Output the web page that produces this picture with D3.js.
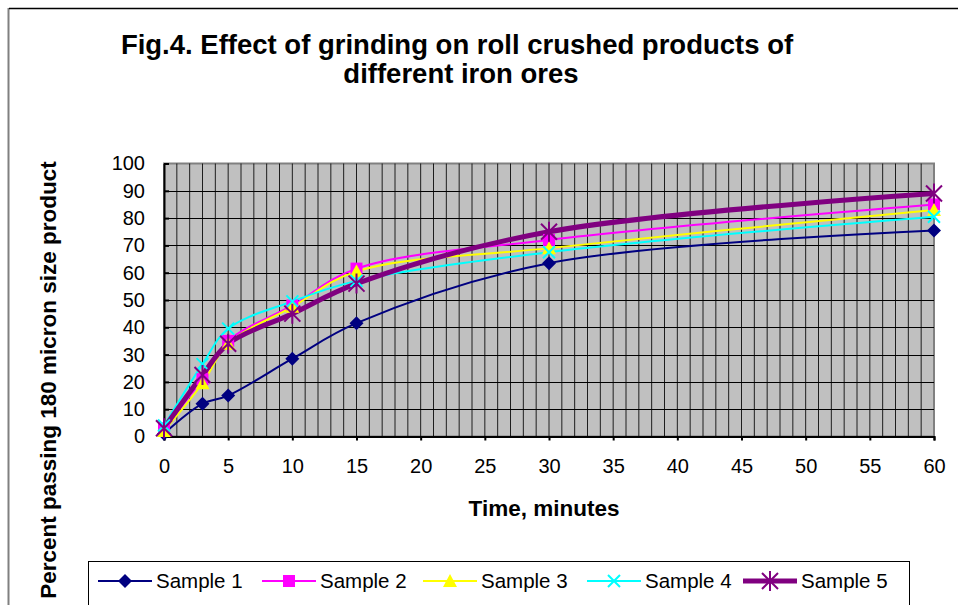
<!DOCTYPE html>
<html>
<head>
<meta charset="utf-8">
<script src="https://cdn.jsdelivr.net/npm/d3@7"></script>
<style>
  body { margin: 0; background: #fff; }
  svg { display: block; font-family: "Liberation Sans", Arial, sans-serif; }
</style>
</head>
<body>
<div class="visualization"></div>
<script>
//constants
const width = 958;
const height = 605;

// data
const times = [0, 3, 5, 10, 15, 30, 60];
const sample1 = [1, 12, 15, 28.5, 41.5, 63.5, 75.5];
const sample2 = [3, 21, 35, 48, 61.5, 72, 85];
const sample3 = [2, 19.5, 34, 47.5, 60.5, 69, 83];
const sample4 = [4, 26.5, 39.5, 49.5, 57, 67.5, 80.5];
const sample5 = [3, 22.5, 34, 45, 56, 75, 89];
const seriesNames = ["Sample 1", "Sample 2", "Sample 3", "Sample 4", "Sample 5"];
const seriesValues = [sample1, sample2, sample3, sample4, sample5];
const colors = ["#000080", "#ff00ff", "#ffff00", "#00ffff", "#800080"];
const lineWidths = [2, 2, 2, 2, 5];
const markerTypes = ["diamond", "square", "triangle", "x", "star"];
const xTicks = d3.range(0, 61, 5);
const yTicks = d3.range(0, 101, 10);

const svg = d3.select(".visualization")
    .append("svg")
    .attr("width", width)
    .attr("height", height);

// outer chart frame
svg.append("line").attr("x1", 8.5).attr("x2", 8.5).attr("y1", 8).attr("y2", height)
    .attr("stroke", "#808080").attr("stroke-width", 2);
svg.append("line").attr("x1", 9).attr("x2", width).attr("y1", 8.5).attr("y2", 8.5)
    .attr("stroke", "#000").attr("stroke-width", 1.5);

const plot = {left: 164, right: 934, top: 163.5, bottom: 436.5};

const x = d3.scaleLinear().domain([0, 60]).range([plot.left, plot.right]);
const y = d3.scaleLinear().domain([0, 100]).range([plot.bottom, plot.top]);

// plot area
svg.append("rect")
    .attr("x", plot.left).attr("y", plot.top)
    .attr("width", plot.right - plot.left).attr("height", plot.bottom - plot.top)
    .attr("fill", "#c0c0c0")
    .attr("stroke", "#808080").attr("stroke-width", 2);

// vertical grid every minute
svg.append("g").selectAll("line")
    .data(d3.range(1, 60))
    .join("line")
    .attr("x1", d => x(d)).attr("x2", d => x(d))
    .attr("y1", plot.top).attr("y2", plot.bottom)
    .attr("stroke", "#000").attr("stroke-width", 1).attr("stroke-opacity", 0.85);

// horizontal grid every 10
svg.append("g").selectAll("line")
    .data(yTicks.slice(1, -1))
    .join("line")
    .attr("x1", plot.left).attr("x2", plot.right)
    .attr("y1", d => Math.round(y(d)) + 0.5).attr("y2", d => Math.round(y(d)) + 0.5)
    .attr("stroke", "#000").attr("stroke-width", 1);

// axes
const xAxis = svg.append("g")
    .attr("transform", `translate(0,${plot.bottom})`)
    .call(d3.axisBottom(x).tickValues(xTicks).tickSize(4).tickPadding(18));
const yAxis = svg.append("g")
    .attr("transform", `translate(${plot.left},0)`)
    .call(d3.axisLeft(y).tickValues(yTicks).tickSizeInner(-5).tickSizeOuter(0).tickPadding(19));

[xAxis, yAxis].forEach(a => {
  a.select(".domain").attr("stroke", "#000").attr("stroke-width", 2);
  a.selectAll(".tick line").attr("stroke", "#000").attr("stroke-width", 2);
  a.selectAll(".tick text").attr("font-size", 20).attr("fill", "#000")
      .attr("font-family", "Liberation Sans, Arial, sans-serif");
});

// lines
const line = d3.line()
    .x((d, i) => x(times[i]))
    .y(d => y(d))
    .curve(d3.curveCatmullRom.alpha(0.5));

svg.append("g").selectAll("path")
    .data(seriesValues)
    .join("path")
    .attr("d", d => line(d))
    .attr("fill", "none")
    .attr("stroke", (d, i) => colors[i])
    .attr("stroke-width", (d, i) => lineWidths[i]);

// markers
function drawMarker(g, type, color) {
  if (type === "diamond") {
    g.append("path").attr("d", "M0,-7L7,0L0,7L-7,0Z").attr("fill", color);
  } else if (type === "square") {
    g.append("rect").attr("x", -6).attr("y", -6).attr("width", 12).attr("height", 12).attr("fill", color);
  } else if (type === "triangle") {
    g.append("path").attr("d", "M0,-7L7,6L-7,6Z").attr("fill", color);
  } else if (type === "x") {
    g.append("path").attr("d", "M-6,-6L6,6M-6,6L6,-6").attr("stroke", color).attr("stroke-width", 2);
  } else if (type === "star") {
    g.append("path").attr("d", "M-8,-8L8,8M-8,8L8,-8M0,-10L0,10").attr("stroke", color).attr("stroke-width", 2);
  }
}

seriesValues.forEach((vals, si) => {
  vals.forEach((v, i) => {
    const g = svg.append("g").attr("transform", `translate(${x(times[i])},${y(v)})`);
    drawMarker(g, markerTypes[si], colors[si]);
  });
});

// title
const title = svg.append("text")
    .attr("text-anchor", "middle")
    .attr("font-weight", "bold")
    .attr("font-size", 27.5)
    .attr("fill", "#000");
title.append("tspan").attr("x", 457).attr("y", 54).text("Fig.4. Effect of grinding on roll crushed products of");
title.append("tspan").attr("x", 461).attr("y", 83).text("different iron ores");

// axis titles
svg.append("text")
    .attr("x", 544).attr("y", 516)
    .attr("text-anchor", "middle")
    .attr("font-weight", "bold").attr("font-size", 22.5)
    .text("Time, minutes");

svg.append("text")
    .attr("transform", "translate(56,380) rotate(-90)")
    .attr("text-anchor", "middle")
    .attr("font-weight", "bold").attr("font-size", 22.5)
    .text("Percent passing 180 micron size product");

// legend
svg.append("rect")
    .attr("x", 88.5).attr("y", 561.5)
    .attr("width", 821).attr("height", 60)
    .attr("fill", "#fff").attr("stroke", "#000").attr("stroke-width", 1);

const legendX = [98, 262, 423, 587, 743];
const legendY = 581;
const legendItem = svg.append("g").selectAll("g")
    .data(seriesNames)
    .join("g")
    .attr("transform", (d, i) => `translate(${legendX[i]},${legendY})`);

legendItem.append("line")
    .attr("x1", 0).attr("x2", 54)
    .attr("stroke", (d, i) => colors[i])
    .attr("stroke-width", (d, i) => lineWidths[i]);
legendItem.each(function(d, i) {
  const g = d3.select(this).append("g").attr("transform", "translate(27,0)");
  drawMarker(g, markerTypes[i], colors[i]);
});
legendItem.append("text")
    .attr("x", 58).attr("y", 7)
    .attr("font-size", 20.5)
    .text(d => d);
</script>
</body>
</html>
